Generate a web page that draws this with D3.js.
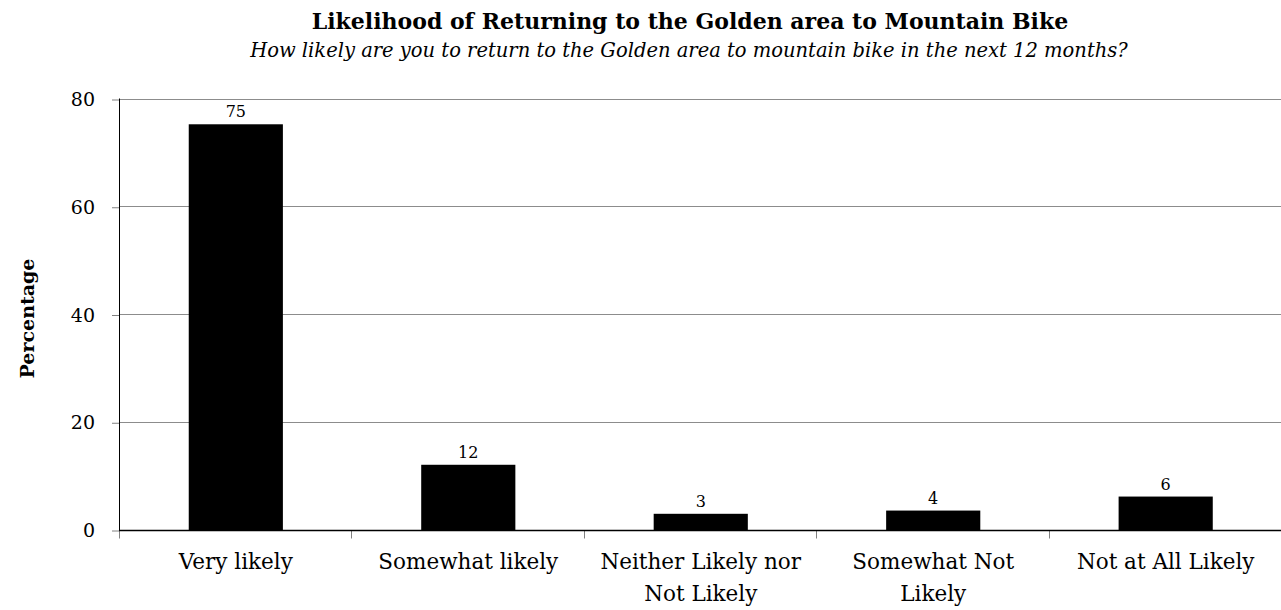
<!DOCTYPE html>
<html><head><meta charset="utf-8">
<script src="https://cdn.jsdelivr.net/npm/d3@7/dist/d3.min.js"></script>
<style>
html,body{margin:0;padding:0;background:#fff;overflow:hidden}
text{font-family:"DejaVu Serif","Liberation Serif",serif;fill:#000}
</style></head>
<body><svg id="c" width="1281" height="610"></svg>
<script>
const categories = ["Very likely", "Somewhat likely", "Neither Likely nor Not Likely", "Somewhat Not Likely", "Not at All Likely"];
const categoryLines = [["Very likely"], ["Somewhat likely"], ["Neither Likely nor", "Not Likely"], ["Somewhat Not", "Likely"], ["Not at All Likely"]];
const values = [75.4, 12.2, 3.1, 3.7, 6.3];
const valueLabels = ["75", "12", "3", "4", "6"];
const yTicks = [0, 20, 40, 60, 80];
const title = "Likelihood of Returning to the Golden area to Mountain Bike";
const subtitle = "How likely are you to return to the Golden area to mountain bike in the next 12 months?";
const yLabel = "Percentage";

const svg = d3.select("#c");
const L = 119, R = 1282.5, T = 99.5, B = 530.5;
const x = d3.scaleBand().domain(categories).range([L, R]).paddingInner(0.595).paddingOuter(0.3);
const y = d3.scaleLinear().domain([0, 80]).range([B, T]);

// gridlines
svg.append("g").selectAll("line").data(yTicks.filter(d => d > 0)).join("line")
  .attr("x1", L).attr("x2", R).attr("y1", d => Math.round(y(d)) - 0.5).attr("y2", d => Math.round(y(d)) - 0.5)
  .attr("stroke", "#8c8c8c").attr("stroke-width", 1);

// y axis
const ya = svg.append("g").attr("transform", `translate(${L},0)`)
  .call(d3.axisLeft(y).tickValues(yTicks).tickSize(7).tickPadding(17).tickFormat(d3.format("d")));
ya.select(".domain").remove();
ya.selectAll(".tick line").attr("stroke", "#808080");
ya.selectAll(".tick text").style("font-size", "19px").attr("fill", "#000");
svg.append("line").attr("x1", L + 0.5).attr("x2", L + 0.5).attr("y1", T - 1).attr("y2", B).attr("stroke", "#000");

// bars
svg.append("g").selectAll("rect").data(values).join("rect")
  .attr("x", (d, i) => x(categories[i])).attr("width", x.bandwidth())
  .attr("y", d => y(d)).attr("height", d => B - y(d)).attr("fill", "#000");

// x axis
const boundaries = d3.range(categories.length + 1).map(i => L + i * x.step());
svg.append("g").selectAll("line").data(boundaries).join("line")
  .attr("x1", d => Math.round(d) + 0.5).attr("x2", d => Math.round(d) + 0.5)
  .attr("y1", B).attr("y2", B + 8).attr("stroke", "#808080");
svg.append("line").attr("x1", L).attr("x2", R).attr("y1", B).attr("y2", B).attr("stroke", "#000").attr("stroke-width", 1.5);

// category labels
const cl = svg.append("g").selectAll("text").data(categoryLines).join("text")
  .attr("text-anchor", "middle").style("font-size", "21.5px")
  .attr("x", (d, i) => x(categories[i]) + x.bandwidth() / 2).attr("y", 569);
cl.selectAll("tspan").data(d => d).join("tspan")
  .attr("x", function() { return d3.select(this.parentNode).attr("x"); })
  .attr("dy", (d, i) => i === 0 ? 0 : 32).text(d => d);

// value labels
svg.append("g").selectAll("text").data(values).join("text")
  .attr("text-anchor", "middle").style("font-size", "16px")
  .attr("x", (d, i) => x(categories[i]) + x.bandwidth() / 2).attr("y", d => y(d) - 7)
  .text((d, i) => valueLabels[i]);

// titles
svg.append("text").attr("x", 690).attr("y", 29).attr("text-anchor", "middle")
  .style("font-size", "22px").style("font-weight", "bold").text(title);
svg.append("text").attr("x", 689).attr("y", 57).attr("text-anchor", "middle")
  .style("font-size", "19.5px").style("font-style", "italic").text(subtitle);
svg.append("text").attr("transform", "translate(34,318.5) rotate(-90)").attr("text-anchor", "middle")
  .style("font-size", "19px").style("font-weight", "bold").text(yLabel);
</script></body></html>
